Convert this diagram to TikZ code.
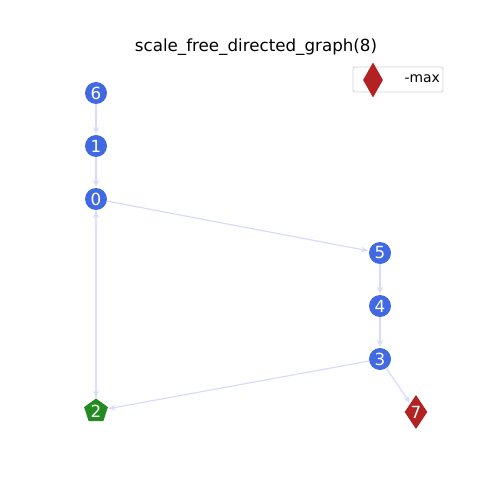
\documentclass[tikz,border=0pt]{standalone}
\usepackage{fontspec}
\setmainfont{DejaVu Sans}
\usetikzlibrary{shapes.geometric,arrows.meta}
\definecolor{nblue}{HTML}{4169E1}
\definecolor{ngreen}{HTML}{228B22}
\definecolor{nred}{HTML}{B22222}
\definecolor{edgec}{RGB}{216,219,250}
\begin{document}
\begin{tikzpicture}[x=1bp,y=-1bp,
  vert/.style={circle,fill=nblue,inner sep=0pt,minimum size=22bp,text=white,font=\fontsize{16.7bp}{16.7bp}\selectfont},
  pent/.style={regular polygon,regular polygon sides=5,fill=ngreen,inner sep=0pt,minimum size=25bp,text=white,font=\fontsize{16.7bp}{16.7bp}\selectfont},
  dia/.style={diamond,fill=nred,inner sep=0pt,minimum width=20bp,minimum height=34bp,text=white,font=\fontsize{16.7bp}{16.7bp}\selectfont},
  edge/.style={draw=edgec,line width=1.2bp,-{Stealth[length=7bp,width=6bp]},shorten >=1bp}]
\useasboundingbox (0,0) rectangle (500,500);
\node[font=\fontsize{16.7bp}{16.7bp}\selectfont] (title) at (256,47) {scale\_free\_directed\_graph(8)};
\node[vert] (n6) at (96,93) {6};
\node[vert] (n1) at (96,146) {1};
\node[vert] (n0) at (96,199) {0};
\node[vert] (n5) at (380,253) {5};
\node[vert] (n4) at (380,306) {4};
\node[vert] (n3) at (380,359) {3};
\node[pent] (n2) at (96,411) {2};
\node[dia] (n7) at (416,412) {7};
\draw[edge] (n6) -- (n1);
\draw[edge] (n1) -- (n0);
\draw[edge] (n0) -- (n5);
\draw[edge] (n5) -- (n4);
\draw[edge] (n4) -- (n3);
\draw[edge] (n3) -- (n2);
\draw[edge] (n3) -- (n7);
\draw[edge] (n0) -- (n2);
\draw[edge] (n2) -- (n0);
\node[draw=black!18,rounded corners=2bp,line width=0.8bp,minimum width=90bp,minimum height=25bp] (legend) at (398,79.5) {};
\node[diamond,fill=nred,inner sep=0pt,minimum width=20bp,minimum height=35bp] (lm) at (373,80) {};
\node[font=\fontsize{13.9bp}{13.9bp}\selectfont,anchor=west] (lt) at (401,79) {-max};
\end{tikzpicture}
\end{document}
